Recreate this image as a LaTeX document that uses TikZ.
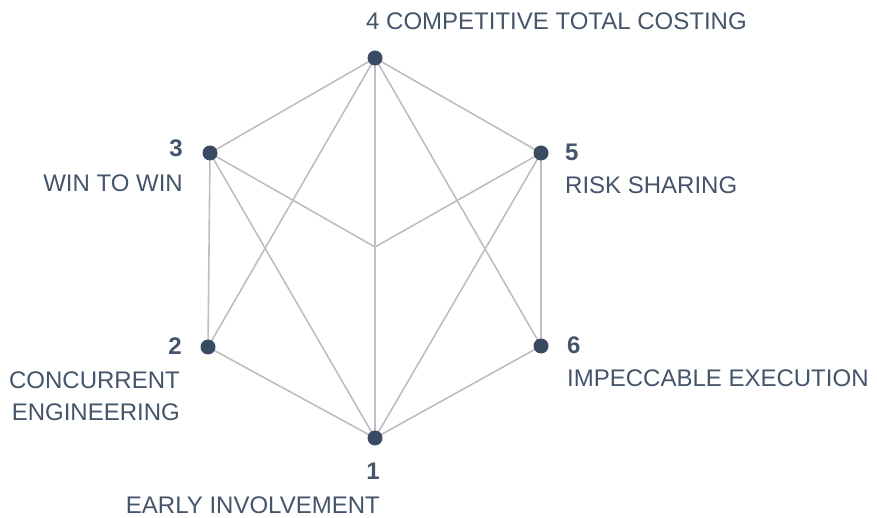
\documentclass[tikz,border=0pt]{standalone}
\usepackage{fontspec}
\setmainfont{Liberation Sans}
\usepackage{tikz}
\usetikzlibrary{positioning}
\usetikzlibrary{backgrounds}
\definecolor{navy}{HTML}{3B4A63}
\definecolor{labtext}{HTML}{44546A}
\definecolor{edgegray}{HTML}{BEBEBE}
\definecolor{axisgray}{HTML}{BCC0C7}
\tikzset{dot/.style = {circle, fill = navy, draw = none, inner sep = 0, minimum size = 15}}
\tikzset{lab/.style = {text = labtext, inner sep = 0, font = \fontsize{24}{28}\selectfont}}
\tikzset{num/.style = {lab, font = \fontsize{24}{28}\selectfont\bfseries}}
\tikzset{edge/.style = {draw = edgegray, line width = 1.6}}

\begin{document}
\begin{tikzpicture}[x = 1pt, y = -1pt]
\useasboundingbox (0, 0) rectangle (877, 518);
\node [dot] (P4) at (375, 58) {};
\node [dot] (P5) at (541, 153) {};
\node [dot] (P6) at (541, 346) {};
\node [dot] (P1) at (375, 438) {};
\node [dot] (P2) at (208, 347) {};
\node [dot] (P3) at (210, 153) {};
\coordinate (M) at (375, 247);
\begin{pgfonlayer}{background}
% outer ring
\draw [edge] (P4.center) -- (P5.center) -- (P6.center) -- (P1.center) -- (P2.center) -- (P3.center) -- (P4.center);
% diagonals
\draw [edge] (P4.center) to (P2.center);
\draw [edge] (P4.center) to (P6.center);
\draw [edge] (P3.center) to (P1.center);
\draw [edge] (P5.center) to (P1.center);
\draw [edge] (P3.center) to (M);
\draw [edge] (P5.center) to (M);
\draw [edge, draw = axisgray, line width = 2] (P4.center) to (P1.center);
\end{pgfonlayer}
% labels
\node [lab, anchor = base west] (L4) at (366, 30) {4 COMPETITIVE TOTAL COSTING};
\node [num, anchor = base west] (N5) at (565, 161) {5};
\node [lab, anchor = base west] (L5) at (565, 194) {RISK SHARING};
\node [num, anchor = base west] (N6) at (567, 353) {6};
\node [lab, anchor = base west] (L6) at (567, 386) {IMPECCABLE EXECUTION};
\node [num, anchor = base east] (N1) at (380, 479) {1};
\node [lab, anchor = base east] (L1) at (380, 513) {EARLY INVOLVEMENT};
\node [num, anchor = base east] (N2) at (182, 354) {2};
\node [lab, anchor = base east] (L2a) at (180, 388) {CONCURRENT};
\node [lab, anchor = base east] (L2b) at (180, 420) {ENGINEERING};
\node [num, anchor = base east] (N3) at (183, 157) {3};
\node [lab, anchor = base east] (L3) at (183, 192) {WIN TO WIN};
\end{tikzpicture}
\end{document}
